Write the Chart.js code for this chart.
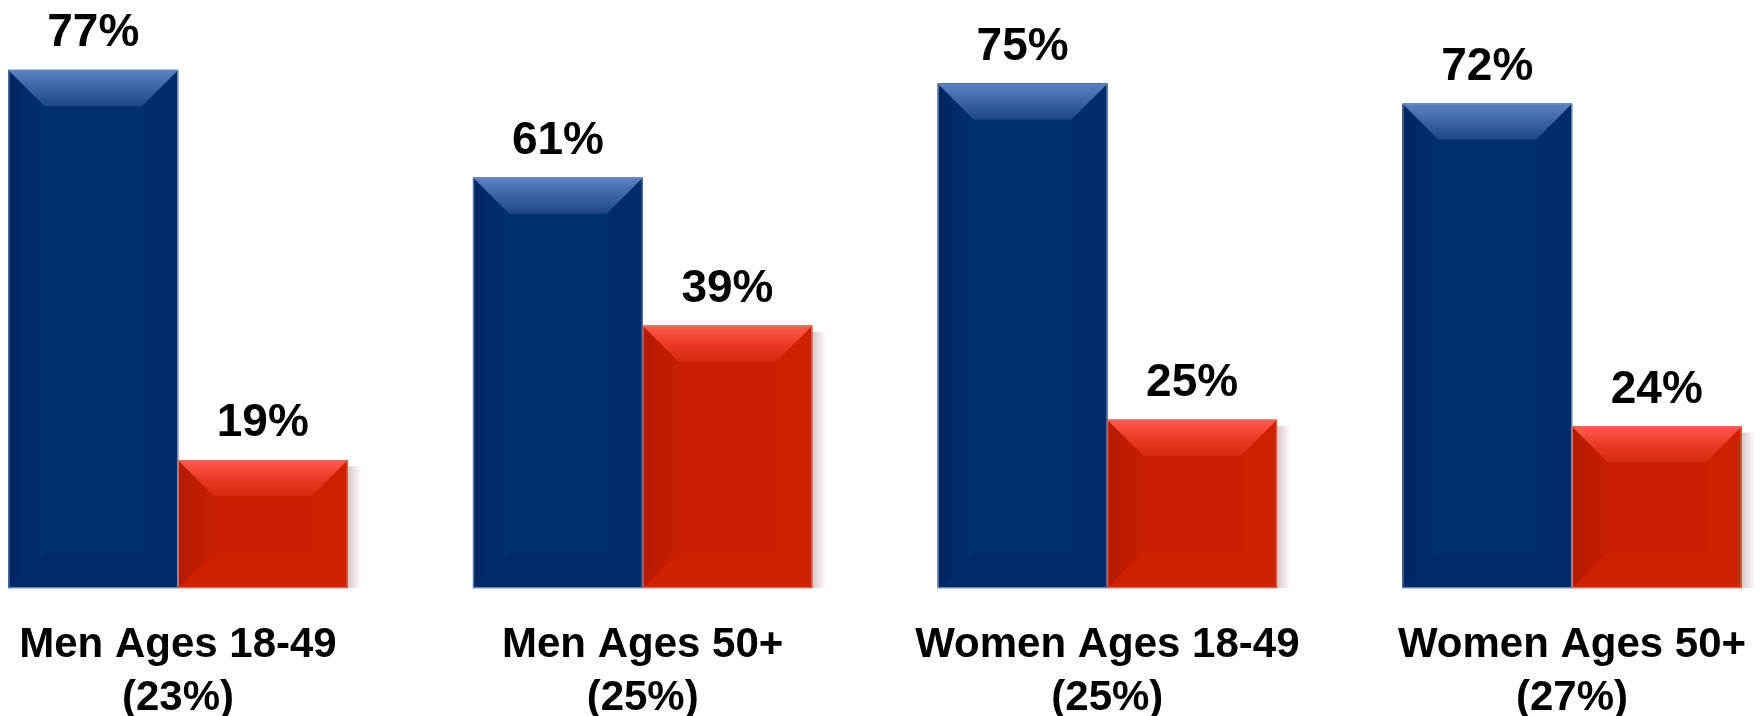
<!DOCTYPE html>
<html>
<head>
<meta charset="utf-8">
<script src="https://cdn.jsdelivr.net/npm/chart.js@4.4.1/dist/chart.umd.min.js"></script>
<style>
  html, body { margin: 0; padding: 0; background: #fff; overflow: hidden; }
  #wrap { position: relative; width: 1764px; height: 756px; }
</style>
</head>
<body>
<div id="wrap"><canvas id="chart"></canvas></div>
<script>
const categories = [
  ['Men Ages 18-49', '(23%)'],
  ['Men Ages 50+', '(25%)'],
  ['Women Ages 18-49', '(25%)'],
  ['Women Ages 50+', '(27%)'],
];
const blueValues = [77, 61, 75, 72];
const redValues = [19, 39, 25, 24];

// bevel look of the bars (lighter top, darker left strip, shaded bottom)
const bevelPlugin = {
  id: 'bevel',
  afterDatasetsDraw(chart) {
    const ctx = chart.ctx;
    chart.data.datasets.forEach((ds, di) => {
      const meta = chart.getDatasetMeta(di);
      const isBlue = di === 0;
      meta.data.forEach((bar) => {
        const left = bar.x - bar.width / 2;
        const right = bar.x + bar.width / 2;
        const top = bar.y;
        const bottom = bar.base;
        const b = Math.min(36, (bottom - top) / 2);
        ctx.save();

        // soft shadow right of red bars
        if (!isBlue) {
          let s = ctx.createLinearGradient(right, 0, right + 14, 0);
          s.addColorStop(0, 'rgba(150,90,90,0.35)');
          s.addColorStop(1, 'rgba(150,90,90,0)');
          ctx.fillStyle = s;
          ctx.fillRect(right, top + 6, 14, bottom - top - 6);
        }

        // left strip
        let g = ctx.createLinearGradient(left, 0, left + b, 0);
        if (isBlue) {
          g.addColorStop(0, 'rgba(0,25,80,0.5)');
          g.addColorStop(1, 'rgba(0,25,80,0)');
        } else {
          g.addColorStop(0, 'rgba(150,20,0,0.4)');
          g.addColorStop(1, 'rgba(150,20,0,0)');
        }
        ctx.fillStyle = g;
        ctx.beginPath();
        ctx.moveTo(left, top);
        ctx.lineTo(left + b, top + b);
        ctx.lineTo(left + b, bottom - b);
        ctx.lineTo(left, bottom);
        ctx.closePath();
        ctx.fill();

        // right strip
        ctx.fillStyle = isBlue ? 'rgba(0,20,70,0.12)' : 'rgba(255,60,20,0.12)';
        ctx.beginPath();
        ctx.moveTo(right, top);
        ctx.lineTo(right - b, top + b);
        ctx.lineTo(right - b, bottom - b);
        ctx.lineTo(right, bottom);
        ctx.closePath();
        ctx.fill();

        // bottom
        ctx.fillStyle = isBlue ? 'rgba(0,15,60,0.15)' : 'rgba(255,50,20,0.15)';
        ctx.beginPath();
        ctx.moveTo(left, bottom);
        ctx.lineTo(left + b, bottom - b);
        ctx.lineTo(right - b, bottom - b);
        ctx.lineTo(right, bottom);
        ctx.closePath();
        ctx.fill();

        // top
        g = ctx.createLinearGradient(0, top, 0, top + b);
        if (isBlue) {
          g.addColorStop(0, '#5a82c2');
          g.addColorStop(0.5, '#3d63a3');
          g.addColorStop(1, '#1e4686');
        } else {
          g.addColorStop(0, '#ff5c4e');
          g.addColorStop(0.5, '#ec3a26');
          g.addColorStop(1, '#d42a10');
        }
        ctx.fillStyle = g;
        ctx.beginPath();
        ctx.moveTo(left, top);
        ctx.lineTo(right, top);
        ctx.lineTo(right - b, top + b);
        ctx.lineTo(left + b, top + b);
        ctx.closePath();
        ctx.fill();

        // outline
        ctx.strokeStyle = isBlue ? '#6c86b4' : '#d9705c';
        ctx.lineWidth = 1;
        ctx.strokeRect(left + 0.5, top + 0.5, bar.width - 1, bottom - top - 1);
        ctx.restore();
      });
    });
  },
};

const valueLabels = {
  id: 'valueLabels',
  afterDatasetsDraw(chart) {
    const ctx = chart.ctx;
    ctx.save();
    ctx.font = 'bold 46px "Liberation Sans", Arial, sans-serif';
    ctx.fillStyle = '#000';
    ctx.textAlign = 'center';
    ctx.textBaseline = 'alphabetic';
    chart.data.datasets.forEach((ds, di) => {
      chart.getDatasetMeta(di).data.forEach((bar, i) => {
        ctx.fillText(ds.data[i] + '%', bar.x, bar.y - 24);
      });
    });
    ctx.restore();
  },
};

new Chart(document.getElementById('chart'), {
  type: 'bar',
  data: {
    labels: categories,
    datasets: [
      {
        label: 'Blue',
        data: blueValues,
        backgroundColor: '#003070',
        borderWidth: 0,
        barThickness: 169.5,
        clip: false,
      },
      {
        label: 'Red',
        data: redValues,
        backgroundColor: '#c81e00',
        borderWidth: 0,
        barThickness: 169.5,
        clip: false,
      },
    ],
  },
  options: {
    responsive: true,
    maintainAspectRatio: false,
    animation: false,
    layout: {
      padding: { left: 178, right: 192, top: 50, bottom: 0 },
    },
    scales: {
      x: {
        offset: false,
        grid: { display: false, drawTicks: false },
        border: { display: false },
        afterFit(scale) {
          // labels may overhang the plot area, don't let them shrink it
          scale.paddingLeft = 0;
          scale.paddingRight = 0;
        },
        ticks: {
          autoSkip: false,
          maxRotation: 0,
          minRotation: 0,
          padding: 31,
          color: '#000',
          font: { family: '"Liberation Sans", Arial, sans-serif', size: 42, weight: 'bold', lineHeight: 53 / 42 },
        },
      },
      y: {
        display: false,
        min: 0,
        max: 80,
      },
    },
    plugins: {
      legend: { display: false },
      tooltip: { enabled: false },
    },
  },
  plugins: [bevelPlugin, valueLabels],
});
</script>
</body>
</html>
